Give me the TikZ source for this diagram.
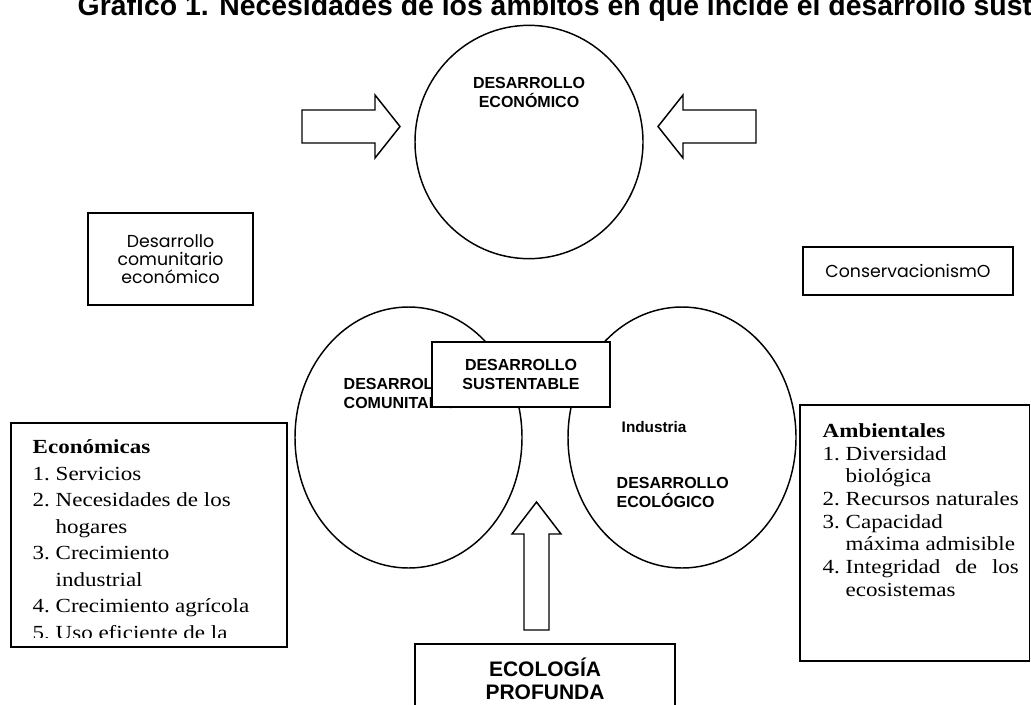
\documentclass[tikz,border=0pt]{standalone}
\usepackage{fontspec}
\usepackage{calc}
\setmainfont{Liberation Sans}
\newfontfamily\gothicfont{Poppins}
\newfontfamily\bookfont[FakeStretch=1.15]{Liberation Serif}
\usetikzlibrary{shapes.geometric,positioning}

\tikzset{
  bubble/.style={draw, ellipse, inner sep=0pt},
  boxed/.style={draw, rectangle, inner sep=0pt, fill=white},
  capslabel/.style={font=\bfseries\fontsize{12}{14.25}\selectfont, inner sep=0pt},
  gothic/.style={font=\gothicfont\fontsize{13}{13.5}\selectfont, align=center},
  blockarrow/.style={draw, fill=white, line join=miter},
}

\begin{document}
\begin{tikzpicture}[x=0.75pt, y=-0.75pt, line width=1.1pt]
\useasboundingbox (0,0) rectangle (1031,704);
\clip (0,0) rectangle (1031,704);
\fill[white] (0,0) rectangle (1031,704);

\node[anchor=base west, inner sep=0pt, font=\bfseries\fontsize{21.3}{24}\selectfont] (title) at (77,15) {Gráfico 1. Necesidades de los ámbitos en que incide el desarrollo sustentable};

\node[bubble, minimum width=171pt, minimum height=175pt] (econ) at (529,142) {};
\node[capslabel, align=center] (econtxt) at (529,92) {DESARROLLO\\ECONÓMICO};

\draw[blockarrow] (302,110) -- (375,110) -- (375,95) -- (400,126.5) -- (375,158) -- (375,143) -- (302,143) -- cycle;
\draw[blockarrow] (756,110) -- (683,110) -- (683,95) -- (658,126.5) -- (683,158) -- (683,143) -- (756,143) -- cycle;

\node[boxed, gothic, minimum width=123.75pt, minimum height=69pt] (dce) at (170.5,259) {Desarrollo\\comunitario\\económico};
\node[boxed, gothic, minimum width=157.5pt, minimum height=36pt] (cons) at (908,271) {ConservacionismO};

\node[bubble, minimum width=170.25pt, minimum height=195.75pt] (com) at (408.5,437.5) {};
\node[bubble, minimum width=171pt, minimum height=195.75pt] (eco) at (682,437.5) {};
\node[capslabel, align=left, anchor=west] (comtxt) at (343,393.5) {DESARROLLO\\COMUNITARIO};
\node[font=\bfseries\fontsize{11.5}{13}\selectfont, anchor=west, inner sep=0pt] (ind) at (621,427.5) {Industria};
\node[capslabel, align=left, anchor=west] (ecotxt) at (616,492.5) {DESARROLLO\\ECOLÓGICO};
\node[boxed, capslabel, align=center, minimum width=133.5pt, minimum height=48.75pt] (sust) at (521,374.5) {DESARROLLO\\SUSTENTABLE};

\draw[blockarrow] (524,630) -- (524,534) -- (512,534) -- (536.5,502) -- (561,534) -- (549,534) -- (549,630) -- cycle;
\node[boxed, font=\bfseries\fontsize{15.75}{17.25}\selectfont, align=center, minimum width=195pt, minimum height=52.5pt] (deep) at (545,679) {ECOLOGÍA\\PROFUNDA};

\node[boxed, minimum width=207pt, minimum height=168pt] (econbox) at (149,535) {};
\begin{scope}
\clip (11,423) rectangle (287,637);
\node[anchor=north west, inner sep=0pt, align=left, font=\bookfont\fontsize{15}{19.9}\selectfont] (econlist) at (32,439) {%
\textbf{Económicas}\\
1.~Servicios\\
2.~Necesidades de los\\
\hphantom{2.~}hogares\\
3.~Crecimiento\\
\hphantom{3.~}industrial\\
4.~Crecimiento agrícola\\
5.~Uso eficiente de la};
\end{scope}

\node[boxed, minimum width=172.1pt, minimum height=192pt] (ambbox) at (914.75,533) {};
\node[anchor=north west, inner sep=0pt, align=left, font=\bookfont\fontsize{15}{17}\selectfont] (amblist) at (822,423) {%
\textbf{Ambientales}\\
1.~Diversidad\\
\hphantom{1.~}biológica\\
2.~Recursos naturales\\
3.~Capacidad\\
\hphantom{3.~}máxima admisible\\
\makebox[\widthof{2.~Recursos naturales}][l]{4.~Integridad\hfill de\hfill los}\\
\hphantom{4.~}ecosistemas};
\end{tikzpicture}
\end{document}
